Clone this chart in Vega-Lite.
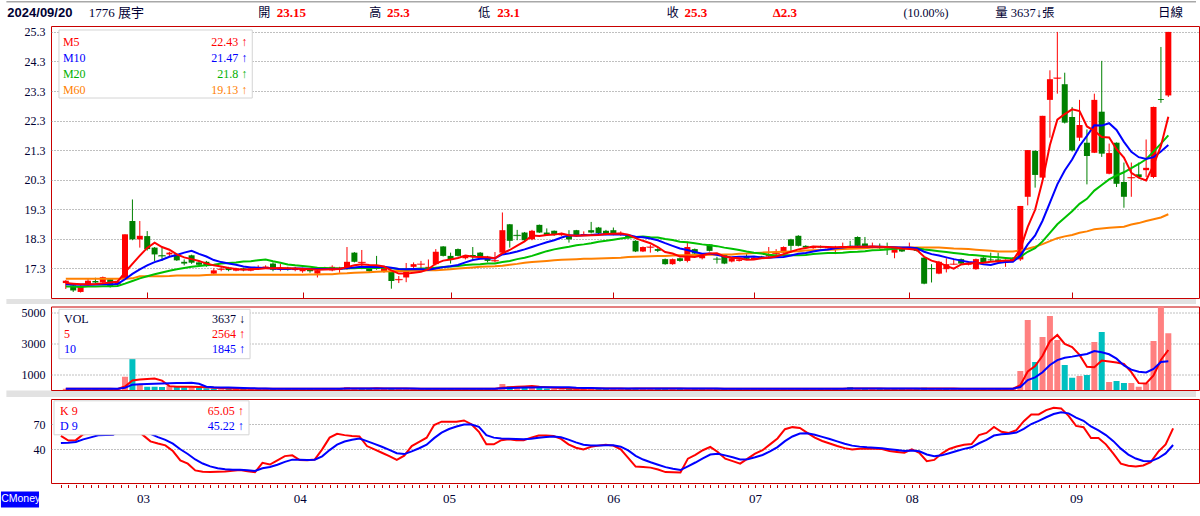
{
"$schema":"https://vega.github.io/schema/vega-lite/v6.json",
"autosize":{"type":"pad"},
"padding":{"left":0,"top":0,"right":0,"bottom":10},
"background":"#ffffff",
"spacing":8.5,
"bounds":"flush",
"config":{
 "view":{"stroke":"#c80000","strokeWidth":1},
 "axis":{"labelFont":"Liberation Serif","labelFontSize":12,"labelColor":"#000033","title":null,"domain":false,"ticks":false,"grid":true,"gridColor":"#808080","gridDash":[1,2],"gridWidth":1,"labelPadding":6,"labelOverlap":false},
 "text":{"font":"Liberation Serif","fontSize":12,"baseline":"middle"}
},
"datasets":{"d":[
{"i":0,"o":16.80,"h":16.90,"l":16.60,"c":16.88,"v":85,"dir":"up","m5":16.80,"m10":16.76,"m20":16.68,"m60":16.95,"a5":80,"a10":75,"k":56,"d":47.6},
{"i":1,"o":16.72,"h":16.75,"l":16.50,"c":16.55,"v":60,"dir":"dn","m5":16.78,"m10":16.75,"m20":16.68,"m60":16.95,"a5":78,"a10":75,"k":50.5,"d":48},
{"i":2,"o":16.50,"h":16.72,"l":16.48,"c":16.70,"v":70,"dir":"up","m5":16.76,"m10":16.74,"m20":16.67,"m60":16.95,"a5":75,"a10":75,"k":51,"d":48.8},
{"i":3,"o":16.76,"h":16.95,"l":16.72,"c":16.88,"v":90,"dir":"up","m5":16.76,"m10":16.74,"m20":16.68,"m60":16.95,"a5":78,"a10":76,"k":58,"d":51.9},
{"i":4,"o":16.87,"h":16.98,"l":16.80,"c":16.82,"v":80,"dir":"dn","m5":16.77,"m10":16.75,"m20":16.68,"m60":16.95,"a5":77,"a10":76,"k":59,"d":54.3},
{"i":5,"o":16.82,"h":17.02,"l":16.80,"c":17.00,"v":70,"dir":"up","m5":16.79,"m10":16.76,"m20":16.69,"m60":16.95,"a5":74,"a10":76,"k":62,"d":56.9},
{"i":6,"o":16.93,"h":16.95,"l":16.65,"c":16.68,"v":60,"dir":"dn","m5":16.82,"m10":16.76,"m20":16.69,"m60":16.95,"a5":74,"a10":75,"k":57.5,"d":57.1},
{"i":7,"o":16.76,"h":16.90,"l":16.70,"c":16.85,"v":60,"dir":"up","m5":16.85,"m10":16.77,"m20":16.70,"m60":16.95,"a5":68,"a10":75,"k":58,"d":57.4},
{"i":8,"o":16.93,"h":18.45,"l":16.90,"c":18.45,"v":855,"dir":"up","m5":17.16,"m10":16.93,"m20":16.78,"m60":16.95,"a5":225,"a10":150,"k":75,"d":63.3},
{"i":9,"o":18.90,"h":19.63,"l":18.25,"c":18.28,"v":2006,"dir":"dn","m5":17.45,"m10":17.11,"m20":16.87,"m60":16.96,"a5":610,"a10":344,"k":72,"d":66.2},
{"i":10,"o":18.28,"h":18.90,"l":18.00,"c":18.40,"v":365,"dir":"up","m5":17.73,"m10":17.26,"m20":16.96,"m60":17.03,"a5":669,"a10":372,"k":65,"d":65.8},
{"i":11,"o":18.39,"h":18.56,"l":17.90,"c":17.95,"v":213,"dir":"dn","m5":17.99,"m10":17.40,"m20":17.03,"m60":17.03,"a5":700,"a10":387,"k":57,"d":62.9},
{"i":12,"o":18.00,"h":18.02,"l":17.55,"c":17.77,"v":213,"dir":"dn","m5":18.17,"m10":17.51,"m20":17.10,"m60":17.03,"a5":730,"a10":401,"k":49.6,"d":58.4},
{"i":13,"o":17.74,"h":18.00,"l":17.55,"c":17.72,"v":200,"dir":"dn","m5":18.02,"m10":17.59,"m20":17.16,"m60":17.03,"a5":599,"a10":412,"k":47,"d":54.6},
{"i":14,"o":17.77,"h":17.86,"l":17.70,"c":17.83,"v":250,"dir":"up","m5":17.93,"m10":17.69,"m20":17.22,"m60":17.04,"a5":248,"a10":429,"k":44.8,"d":51.3},
{"i":15,"o":17.77,"h":17.80,"l":17.55,"c":17.57,"v":200,"dir":"dn","m5":17.77,"m10":17.75,"m20":17.27,"m60":17.06,"a5":215,"a10":442,"k":38,"d":46.9},
{"i":16,"o":17.52,"h":17.60,"l":17.40,"c":17.46,"v":180,"dir":"dn","m5":17.67,"m10":17.83,"m20":17.31,"m60":17.06,"a5":209,"a10":454,"k":27,"d":40.2},
{"i":17,"o":17.74,"h":17.76,"l":17.45,"c":17.49,"v":200,"dir":"up","m5":17.61,"m10":17.89,"m20":17.35,"m60":17.06,"a5":206,"a10":468,"k":23,"d":34.5},
{"i":18,"o":17.50,"h":17.55,"l":17.40,"c":17.42,"v":150,"dir":"dn","m5":17.55,"m10":17.79,"m20":17.38,"m60":17.06,"a5":196,"a10":398,"k":15,"d":28},
{"i":19,"o":17.52,"h":17.55,"l":17.35,"c":17.38,"v":120,"dir":"dn","m5":17.46,"m10":17.70,"m20":17.40,"m60":17.07,"a5":170,"a10":209,"k":13.5,"d":23.2},
{"i":20,"o":17.12,"h":17.30,"l":17.10,"c":17.23,"v":90,"dir":"dn","m5":17.40,"m10":17.58,"m20":17.42,"m60":17.08,"a5":146,"a10":181,"k":13,"d":19.8},
{"i":21,"o":17.25,"h":17.35,"l":17.20,"c":17.27,"v":70,"dir":"up","m5":17.36,"m10":17.51,"m20":17.46,"m60":17.08,"a5":126,"a10":167,"k":13.3,"d":17.6},
{"i":22,"o":17.32,"h":17.35,"l":17.20,"c":17.24,"v":80,"dir":"dn","m5":17.31,"m10":17.46,"m20":17.48,"m60":17.08,"a5":102,"a10":154,"k":13.6,"d":16.3},
{"i":23,"o":17.22,"h":17.32,"l":17.20,"c":17.28,"v":60,"dir":"up","m5":17.28,"m10":17.42,"m20":17.50,"m60":17.08,"a5":88,"a10":142,"k":14.5,"d":15.7},
{"i":24,"o":17.30,"h":17.32,"l":17.20,"c":17.25,"v":90,"dir":"dn","m5":17.25,"m10":17.36,"m20":17.53,"m60":17.08,"a5":80,"a10":125,"k":15.6,"d":15.7},
{"i":25,"o":17.22,"h":17.35,"l":17.20,"c":17.30,"v":80,"dir":"up","m5":17.27,"m10":17.33,"m20":17.54,"m60":17.08,"a5":80,"a10":113,"k":14,"d":15.1},
{"i":26,"o":17.28,"h":17.40,"l":17.25,"c":17.33,"v":70,"dir":"up","m5":17.28,"m10":17.32,"m20":17.57,"m60":17.08,"a5":80,"a10":103,"k":12.8,"d":14.3},
{"i":27,"o":17.30,"h":17.40,"l":17.28,"c":17.36,"v":100,"dir":"up","m5":17.30,"m10":17.31,"m20":17.60,"m60":17.08,"a5":80,"a10":91,"k":24,"d":17.5},
{"i":28,"o":17.46,"h":17.50,"l":17.20,"c":17.25,"v":80,"dir":"dn","m5":17.30,"m10":17.29,"m20":17.54,"m60":17.08,"a5":80,"a10":84,"k":22,"d":19},
{"i":29,"o":17.25,"h":17.45,"l":17.20,"c":17.30,"v":60,"dir":"up","m5":17.31,"m10":17.28,"m20":17.49,"m60":17.08,"a5":80,"a10":80,"k":27,"d":21.7},
{"i":30,"o":17.32,"h":17.35,"l":17.22,"c":17.26,"v":80,"dir":"dn","m5":17.30,"m10":17.28,"m20":17.43,"m60":17.08,"a5":80,"a10":80,"k":32,"d":25.1},
{"i":31,"o":17.24,"h":17.35,"l":17.20,"c":17.30,"v":90,"dir":"up","m5":17.29,"m10":17.29,"m20":17.40,"m60":17.08,"a5":80,"a10":80,"k":33,"d":27.8},
{"i":32,"o":17.20,"h":17.32,"l":17.15,"c":17.28,"v":70,"dir":"dn","m5":17.28,"m10":17.29,"m20":17.38,"m60":17.08,"a5":80,"a10":80,"k":27.4,"d":27.7},
{"i":33,"o":17.25,"h":17.28,"l":17.15,"c":17.20,"v":80,"dir":"dn","m5":17.27,"m10":17.28,"m20":17.35,"m60":17.09,"a5":80,"a10":80,"k":27,"d":27.5},
{"i":34,"o":17.12,"h":17.25,"l":16.99,"c":17.23,"v":70,"dir":"up","m5":17.25,"m10":17.28,"m20":17.32,"m60":17.09,"a5":80,"a10":80,"k":28,"d":27.7},
{"i":35,"o":17.28,"h":17.35,"l":17.25,"c":17.30,"v":90,"dir":"up","m5":17.26,"m10":17.28,"m20":17.31,"m60":17.10,"a5":80,"a10":80,"k":40,"d":31.8},
{"i":36,"o":17.23,"h":17.40,"l":17.20,"c":17.35,"v":80,"dir":"up","m5":17.27,"m10":17.28,"m20":17.30,"m60":17.10,"a5":80,"a10":80,"k":54,"d":39.2},
{"i":37,"o":17.30,"h":17.35,"l":17.15,"c":17.31,"v":60,"dir":"dn","m5":17.28,"m10":17.28,"m20":17.29,"m60":17.12,"a5":80,"a10":80,"k":58.5,"d":45.6},
{"i":38,"o":17.27,"h":18.02,"l":17.25,"c":17.52,"v":190,"dir":"up","m5":17.34,"m10":17.31,"m20":17.30,"m60":17.13,"a5":102,"a10":91,"k":57,"d":49.4},
{"i":39,"o":17.83,"h":17.85,"l":17.50,"c":17.52,"v":90,"dir":"up","m5":17.40,"m10":17.33,"m20":17.30,"m60":17.15,"a5":102,"a10":91,"k":56,"d":51.6},
{"i":40,"o":17.48,"h":17.92,"l":17.27,"c":17.50,"v":80,"dir":"dn","m5":17.44,"m10":17.35,"m20":17.32,"m60":17.16,"a5":102,"a10":91,"k":55.5,"d":52.9},
{"i":41,"o":17.30,"h":17.32,"l":17.15,"c":17.20,"v":70,"dir":"dn","m5":17.41,"m10":17.34,"m20":17.31,"m60":17.17,"a5":102,"a10":91,"k":44,"d":49.9},
{"i":42,"o":17.32,"h":17.72,"l":17.25,"c":17.28,"v":150,"dir":"up","m5":17.40,"m10":17.34,"m20":17.32,"m60":17.18,"a5":116,"a10":98,"k":40,"d":46.6},
{"i":43,"o":17.19,"h":17.35,"l":17.15,"c":17.32,"v":80,"dir":"up","m5":17.36,"m10":17.35,"m20":17.32,"m60":17.19,"a5":94,"a10":98,"k":36,"d":43.1},
{"i":44,"o":17.21,"h":17.22,"l":16.61,"c":16.87,"v":100,"dir":"dn","m5":17.23,"m10":17.32,"m20":17.30,"m60":17.20,"a5":94,"a10":98,"k":32,"d":39.4},
{"i":45,"o":16.90,"h":17.04,"l":16.80,"c":16.92,"v":80,"dir":"up","m5":17.12,"m10":17.28,"m20":17.28,"m60":17.21,"a5":94,"a10":98,"k":27.4,"d":35.4},
{"i":46,"o":16.99,"h":17.48,"l":16.83,"c":17.21,"v":90,"dir":"up","m5":17.12,"m10":17.27,"m20":17.27,"m60":17.21,"a5":94,"a10":98,"k":32.5,"d":34.4},
{"i":47,"o":17.35,"h":17.50,"l":17.30,"c":17.44,"v":70,"dir":"up","m5":17.15,"m10":17.28,"m20":17.28,"m60":17.22,"a5":80,"a10":98,"k":44,"d":37.6},
{"i":48,"o":17.43,"h":17.55,"l":17.30,"c":17.44,"v":80,"dir":"up","m5":17.18,"m10":17.27,"m20":17.29,"m60":17.22,"a5":80,"a10":87,"k":49,"d":41.4},
{"i":49,"o":17.28,"h":17.60,"l":17.25,"c":17.35,"v":60,"dir":"dn","m5":17.27,"m10":17.25,"m20":17.29,"m60":17.23,"a5":80,"a10":87,"k":54,"d":45.6},
{"i":50,"o":17.44,"h":17.95,"l":17.40,"c":17.86,"v":110,"dir":"up","m5":17.46,"m10":17.29,"m20":17.32,"m60":17.23,"a5":80,"a10":87,"k":69,"d":53.4},
{"i":51,"o":18.04,"h":18.05,"l":17.70,"c":17.72,"v":90,"dir":"dn","m5":17.56,"m10":17.34,"m20":17.34,"m60":17.25,"a5":80,"a10":87,"k":73,"d":59.9},
{"i":52,"o":17.72,"h":17.83,"l":17.46,"c":17.61,"v":70,"dir":"dn","m5":17.60,"m10":17.37,"m20":17.36,"m60":17.27,"a5":80,"a10":80,"k":73,"d":64.3},
{"i":53,"o":17.95,"h":17.97,"l":17.70,"c":17.72,"v":80,"dir":"up","m5":17.65,"m10":17.41,"m20":17.38,"m60":17.29,"a5":80,"a10":80,"k":73,"d":67.2},
{"i":54,"o":17.64,"h":17.75,"l":17.60,"c":17.72,"v":60,"dir":"up","m5":17.73,"m10":17.50,"m20":17.41,"m60":17.31,"a5":80,"a10":80,"k":74.5,"d":69.6},
{"i":55,"o":17.75,"h":18.02,"l":17.60,"c":17.69,"v":80,"dir":"dn","m5":17.69,"m10":17.58,"m20":17.43,"m60":17.33,"a5":80,"a10":80,"k":70,"d":69.7},
{"i":56,"o":17.83,"h":17.85,"l":17.62,"c":17.66,"v":70,"dir":"dn","m5":17.68,"m10":17.62,"m20":17.44,"m60":17.35,"a5":80,"a10":80,"k":61,"d":66.8},
{"i":57,"o":17.69,"h":17.72,"l":17.50,"c":17.55,"v":80,"dir":"dn","m5":17.67,"m10":17.63,"m20":17.46,"m60":17.36,"a5":80,"a10":80,"k":46,"d":57},
{"i":58,"o":17.54,"h":17.85,"l":17.50,"c":17.56,"v":80,"dir":"up","m5":17.64,"m10":17.64,"m20":17.46,"m60":17.37,"a5":80,"a10":80,"k":46,"d":54},
{"i":59,"o":17.83,"h":19.19,"l":17.80,"c":18.59,"v":385,"dir":"up","m5":17.81,"m10":17.77,"m20":17.51,"m60":17.39,"a5":141,"a10":111,"k":51,"d":53},
{"i":60,"o":18.79,"h":18.80,"l":18.00,"c":18.23,"v":240,"dir":"dn","m5":17.92,"m10":17.81,"m20":17.55,"m60":17.42,"a5":173,"a10":127,"k":52,"d":52.7},
{"i":61,"o":18.43,"h":18.60,"l":18.25,"c":18.41,"v":230,"dir":"up","m5":18.07,"m10":17.87,"m20":17.61,"m60":17.45,"a5":203,"a10":142,"k":51,"d":52.5},
{"i":62,"o":18.51,"h":18.53,"l":18.20,"c":18.25,"v":220,"dir":"dn","m5":18.21,"m10":17.94,"m20":17.66,"m60":17.49,"a5":231,"a10":156,"k":51,"d":52},
{"i":63,"o":18.28,"h":18.60,"l":18.25,"c":18.57,"v":200,"dir":"up","m5":18.41,"m10":18.02,"m20":17.72,"m60":17.51,"a5":255,"a10":168,"k":54,"d":52.7},
{"i":64,"o":18.77,"h":18.78,"l":18.50,"c":18.51,"v":150,"dir":"dn","m5":18.39,"m10":18.10,"m20":17.80,"m60":17.53,"a5":208,"a10":175,"k":56.6,"d":54},
{"i":65,"o":18.51,"h":18.65,"l":18.40,"c":18.43,"v":100,"dir":"dn","m5":18.43,"m10":18.18,"m20":17.88,"m60":17.55,"a5":180,"a10":177,"k":56.6,"d":54.9},
{"i":66,"o":18.57,"h":18.58,"l":18.40,"c":18.43,"v":80,"dir":"up","m5":18.44,"m10":18.25,"m20":17.94,"m60":17.57,"a5":150,"a10":177,"k":56,"d":55.3},
{"i":67,"o":18.42,"h":18.50,"l":18.40,"c":18.46,"v":70,"dir":"up","m5":18.48,"m10":18.34,"m20":17.99,"m60":17.59,"a5":122,"a10":177,"k":52.5,"d":54.4},
{"i":68,"o":18.40,"h":18.59,"l":18.17,"c":18.28,"v":90,"dir":"dn","m5":18.42,"m10":18.42,"m20":18.03,"m60":17.60,"a5":98,"a10":177,"k":46,"d":51.6},
{"i":69,"o":18.59,"h":18.60,"l":18.38,"c":18.40,"v":80,"dir":"up","m5":18.40,"m10":18.40,"m20":18.08,"m60":17.61,"a5":84,"a10":146,"k":42,"d":48.4},
{"i":70,"o":18.42,"h":18.55,"l":18.40,"c":18.46,"v":70,"dir":"up","m5":18.41,"m10":18.42,"m20":18.11,"m60":17.62,"a5":80,"a10":130,"k":40,"d":45.6},
{"i":71,"o":18.59,"h":18.87,"l":18.48,"c":18.51,"v":190,"dir":"up","m5":18.42,"m10":18.43,"m20":18.15,"m60":17.62,"a5":102,"a10":126,"k":43,"d":44.7},
{"i":72,"o":18.68,"h":18.70,"l":18.45,"c":18.49,"v":90,"dir":"dn","m5":18.43,"m10":18.45,"m20":18.20,"m60":17.63,"a5":102,"a10":112,"k":44.5,"d":44.6},
{"i":73,"o":18.57,"h":18.60,"l":18.42,"c":18.45,"v":80,"dir":"dn","m5":18.46,"m10":18.44,"m20":18.23,"m60":17.64,"a5":102,"a10":100,"k":45.5,"d":44.9},
{"i":74,"o":18.59,"h":18.68,"l":18.42,"c":18.45,"v":70,"dir":"up","m5":18.47,"m10":18.44,"m20":18.27,"m60":17.65,"a5":102,"a10":93,"k":44.5,"d":44.8},
{"i":75,"o":18.43,"h":18.55,"l":18.40,"c":18.50,"v":80,"dir":"up","m5":18.48,"m10":18.44,"m20":18.31,"m60":17.66,"a5":102,"a10":91,"k":40,"d":43.2},
{"i":76,"o":18.40,"h":18.45,"l":18.30,"c":18.32,"v":90,"dir":"dn","m5":18.44,"m10":18.43,"m20":18.34,"m60":17.68,"a5":80,"a10":91,"k":30,"d":38.8},
{"i":77,"o":18.23,"h":18.25,"l":17.85,"c":17.87,"v":130,"dir":"dn","m5":18.32,"m10":18.37,"m20":18.36,"m60":17.69,"a5":90,"a10":96,"k":19.5,"d":32.4},
{"i":78,"o":17.87,"h":18.04,"l":17.85,"c":18.02,"v":80,"dir":"up","m5":18.23,"m10":18.35,"m20":18.38,"m60":17.70,"a5":90,"a10":96,"k":19,"d":27.9},
{"i":79,"o":18.00,"h":18.10,"l":17.83,"c":18.02,"v":130,"dir":"up","m5":18.15,"m10":18.31,"m20":18.35,"m60":17.71,"a5":100,"a10":101,"k":18.3,"d":24.7},
{"i":80,"o":17.95,"h":17.98,"l":17.85,"c":17.89,"v":70,"dir":"dn","m5":18.02,"m10":18.25,"m20":18.34,"m60":17.72,"a5":100,"a10":101,"k":16,"d":21.8},
{"i":81,"o":17.61,"h":17.63,"l":17.42,"c":17.44,"v":90,"dir":"dn","m5":17.85,"m10":18.15,"m20":18.29,"m60":17.72,"a5":100,"a10":90,"k":13,"d":18.9},
{"i":82,"o":17.44,"h":17.63,"l":17.42,"c":17.61,"v":80,"dir":"up","m5":17.80,"m10":18.06,"m20":18.26,"m60":17.73,"a5":90,"a10":90,"k":12.8,"d":16.9},
{"i":83,"o":17.64,"h":17.66,"l":17.52,"c":17.55,"v":70,"dir":"dn","m5":17.70,"m10":17.97,"m20":18.20,"m60":17.74,"a5":90,"a10":90,"k":12.4,"d":15.4},
{"i":84,"o":17.55,"h":18.20,"l":17.50,"c":18.02,"v":120,"dir":"up","m5":17.70,"m10":17.92,"m20":18.18,"m60":17.74,"a5":88,"a10":94,"k":29,"d":19.9},
{"i":85,"o":17.95,"h":17.97,"l":17.78,"c":17.80,"v":80,"dir":"dn","m5":17.68,"m10":17.85,"m20":18.15,"m60":17.75,"a5":88,"a10":94,"k":33.5,"d":24.4},
{"i":86,"o":17.64,"h":17.75,"l":17.60,"c":17.72,"v":70,"dir":"dn","m5":17.74,"m10":17.79,"m20":18.11,"m60":17.75,"a5":88,"a10":94,"k":39,"d":29.3},
{"i":87,"o":18.11,"h":18.12,"l":17.87,"c":17.89,"v":90,"dir":"up","m5":17.80,"m10":17.80,"m20":18.08,"m60":17.76,"a5":88,"a10":89,"k":43,"d":33.9},
{"i":88,"o":17.62,"h":17.69,"l":17.46,"c":17.61,"v":80,"dir":"dn","m5":17.81,"m10":17.76,"m20":18.05,"m60":17.76,"a5":88,"a10":89,"k":37,"d":34.9},
{"i":89,"o":17.75,"h":17.76,"l":17.44,"c":17.46,"v":70,"dir":"dn","m5":17.70,"m10":17.70,"m20":18.00,"m60":17.77,"a5":80,"a10":84,"k":29,"d":32.9},
{"i":90,"o":17.53,"h":17.66,"l":17.50,"c":17.64,"v":80,"dir":"up","m5":17.66,"m10":17.67,"m20":17.96,"m60":17.77,"a5":80,"a10":84,"k":26,"d":30.6},
{"i":91,"o":17.55,"h":17.62,"l":17.53,"c":17.60,"v":60,"dir":"dn","m5":17.64,"m10":17.69,"m20":17.92,"m60":17.79,"a5":80,"a10":84,"k":23,"d":28.1},
{"i":92,"o":17.72,"h":17.78,"l":17.60,"c":17.62,"v":70,"dir":"up","m5":17.59,"m10":17.69,"m20":17.87,"m60":17.80,"a5":80,"a10":84,"k":29,"d":28.4},
{"i":93,"o":17.60,"h":17.70,"l":17.58,"c":17.66,"v":80,"dir":"up","m5":17.60,"m10":17.70,"m20":17.83,"m60":17.82,"a5":80,"a10":84,"k":35,"d":30.6},
{"i":94,"o":17.70,"h":17.72,"l":17.63,"c":17.66,"v":90,"dir":"up","m5":17.64,"m10":17.67,"m20":17.80,"m60":17.83,"a5":80,"a10":80,"k":39,"d":33.4},
{"i":95,"o":17.70,"h":18.02,"l":17.68,"c":17.75,"v":80,"dir":"up","m5":17.66,"m10":17.66,"m20":17.76,"m60":17.84,"a5":80,"a10":80,"k":46,"d":37.6},
{"i":96,"o":17.78,"h":17.95,"l":17.75,"c":17.80,"v":70,"dir":"up","m5":17.70,"m10":17.67,"m20":17.73,"m60":17.85,"a5":80,"a10":80,"k":53,"d":42.7},
{"i":97,"o":17.83,"h":18.04,"l":17.80,"c":18.02,"v":100,"dir":"up","m5":17.78,"m10":17.68,"m20":17.74,"m60":17.86,"a5":80,"a10":80,"k":64,"d":49.8},
{"i":98,"o":18.28,"h":18.30,"l":17.89,"c":18.06,"v":90,"dir":"up","m5":17.86,"m10":17.73,"m20":17.74,"m60":17.87,"a5":80,"a10":80,"k":66.5,"d":55.4},
{"i":99,"o":18.40,"h":18.42,"l":18.04,"c":18.06,"v":80,"dir":"up","m5":17.94,"m10":17.79,"m20":17.74,"m60":17.88,"a5":80,"a10":80,"k":65.5,"d":58.8},
{"i":100,"o":18.06,"h":18.08,"l":17.98,"c":18.00,"v":70,"dir":"dn","m5":17.99,"m10":17.82,"m20":17.75,"m60":17.90,"a5":80,"a10":80,"k":59.7,"d":59.1},
{"i":101,"o":17.98,"h":18.06,"l":17.96,"c":18.04,"v":60,"dir":"up","m5":18.04,"m10":17.87,"m20":17.78,"m60":17.91,"a5":80,"a10":80,"k":54,"d":57.4},
{"i":102,"o":18.05,"h":18.07,"l":17.98,"c":18.00,"v":80,"dir":"dn","m5":18.03,"m10":17.91,"m20":17.80,"m60":17.92,"a5":80,"a10":80,"k":50,"d":54.9},
{"i":103,"o":17.98,"h":18.05,"l":17.96,"c":18.02,"v":70,"dir":"up","m5":18.02,"m10":17.94,"m20":17.82,"m60":17.93,"a5":80,"a10":80,"k":47,"d":52.3},
{"i":104,"o":17.96,"h":18.06,"l":17.78,"c":18.00,"v":80,"dir":"dn","m5":18.01,"m10":17.98,"m20":17.82,"m60":17.94,"a5":80,"a10":80,"k":44,"d":49.5},
{"i":105,"o":18.00,"h":18.17,"l":17.98,"c":18.04,"v":90,"dir":"up","m5":18.02,"m10":18.00,"m20":17.83,"m60":17.95,"a5":80,"a10":80,"k":41.5,"d":46.8},
{"i":106,"o":18.06,"h":18.23,"l":18.00,"c":18.03,"v":190,"dir":"dn","m5":18.02,"m10":18.03,"m20":17.85,"m60":17.96,"a5":102,"a10":91,"k":40,"d":44.5},
{"i":107,"o":18.36,"h":18.38,"l":18.04,"c":18.06,"v":80,"dir":"up","m5":18.03,"m10":18.03,"m20":17.86,"m60":17.97,"a5":102,"a10":91,"k":40.8,"d":43.3},
{"i":108,"o":18.14,"h":18.36,"l":18.00,"c":18.02,"v":90,"dir":"dn","m5":18.03,"m10":18.03,"m20":17.88,"m60":17.98,"a5":102,"a10":91,"k":40.8,"d":42.5},
{"i":109,"o":18.00,"h":18.17,"l":17.98,"c":18.06,"v":70,"dir":"up","m5":18.04,"m10":18.03,"m20":17.91,"m60":18.00,"a5":102,"a10":91,"k":40.8,"d":41.9},
{"i":110,"o":18.04,"h":18.14,"l":17.95,"c":17.98,"v":60,"dir":"dn","m5":18.03,"m10":18.03,"m20":17.92,"m60":18.00,"a5":102,"a10":91,"k":40.5,"d":41.4},
{"i":111,"o":18.00,"h":18.17,"l":17.75,"c":17.97,"v":80,"dir":"dn","m5":18.02,"m10":18.02,"m20":17.94,"m60":18.00,"a5":80,"a10":91,"k":38,"d":40.3},
{"i":112,"o":17.83,"h":17.97,"l":17.64,"c":17.95,"v":90,"dir":"dn","m5":18.00,"m10":18.01,"m20":17.96,"m60":18.00,"a5":80,"a10":91,"k":37,"d":39.2},
{"i":113,"o":17.95,"h":17.97,"l":17.85,"c":17.87,"v":70,"dir":"dn","m5":17.97,"m10":18.00,"m20":17.97,"m60":18.00,"a5":80,"a10":91,"k":36,"d":38.1},
{"i":114,"o":17.96,"h":18.17,"l":17.94,"c":17.98,"v":80,"dir":"up","m5":17.95,"m10":18.00,"m20":17.99,"m60":18.00,"a5":80,"a10":91,"k":40,"d":38.7},
{"i":115,"o":17.95,"h":17.97,"l":17.87,"c":17.89,"v":60,"dir":"dn","m5":17.93,"m10":17.98,"m20":17.99,"m60":18.00,"a5":80,"a10":91,"k":36,"d":37.8},
{"i":116,"o":17.66,"h":17.68,"l":16.76,"c":16.78,"v":140,"dir":"dn","m5":17.69,"m10":17.86,"m20":17.94,"m60":18.00,"a5":92,"a10":86,"k":26,"d":33.9},
{"i":117,"o":17.30,"h":17.44,"l":16.82,"c":17.29,"v":90,"dir":"up","m5":17.56,"m10":17.78,"m20":17.91,"m60":18.00,"a5":92,"a10":86,"k":27.5,"d":31.8},
{"i":118,"o":17.12,"h":17.55,"l":17.10,"c":17.52,"v":80,"dir":"up","m5":17.49,"m10":17.73,"m20":17.88,"m60":18.00,"a5":92,"a10":86,"k":35,"d":32.9},
{"i":119,"o":17.27,"h":17.64,"l":17.16,"c":17.44,"v":70,"dir":"dn","m5":17.38,"m10":17.67,"m20":17.85,"m60":17.99,"a5":92,"a10":86,"k":40.5,"d":35.4},
{"i":120,"o":17.43,"h":17.62,"l":17.42,"c":17.44,"v":80,"dir":"up","m5":17.29,"m10":17.61,"m20":17.82,"m60":17.97,"a5":92,"a10":86,"k":43.5,"d":38.1},
{"i":121,"o":17.61,"h":17.63,"l":17.44,"c":17.46,"v":60,"dir":"up","m5":17.43,"m10":17.56,"m20":17.79,"m60":17.96,"a5":80,"a10":86,"k":45.5,"d":40.6},
{"i":122,"o":17.42,"h":17.50,"l":17.40,"c":17.46,"v":70,"dir":"up","m5":17.46,"m10":17.51,"m20":17.76,"m60":17.95,"a5":80,"a10":86,"k":46.4,"d":42.5},
{"i":123,"o":17.27,"h":17.63,"l":17.25,"c":17.61,"v":90,"dir":"up","m5":17.48,"m10":17.49,"m20":17.74,"m60":17.93,"a5":80,"a10":86,"k":57,"d":47.3},
{"i":124,"o":17.66,"h":17.68,"l":17.47,"c":17.49,"v":80,"dir":"dn","m5":17.49,"m10":17.44,"m20":17.72,"m60":17.91,"a5":80,"a10":86,"k":59.6,"d":51.4},
{"i":125,"o":17.60,"h":17.83,"l":17.55,"c":17.57,"v":70,"dir":"up","m5":17.52,"m10":17.41,"m20":17.69,"m60":17.89,"a5":80,"a10":86,"k":66.8,"d":56.5},
{"i":126,"o":17.60,"h":17.83,"l":17.50,"c":17.55,"v":80,"dir":"dn","m5":17.54,"m10":17.48,"m20":17.67,"m60":17.87,"a5":80,"a10":80,"k":61,"d":58},
{"i":127,"o":17.49,"h":17.60,"l":17.35,"c":17.57,"v":90,"dir":"up","m5":17.56,"m10":17.51,"m20":17.65,"m60":17.87,"a5":80,"a10":80,"k":59.6,"d":58.5},
{"i":128,"o":17.58,"h":17.68,"l":17.55,"c":17.65,"v":80,"dir":"up","m5":17.57,"m10":17.52,"m20":17.63,"m60":17.87,"a5":80,"a10":80,"k":63,"d":60},
{"i":129,"o":17.60,"h":19.41,"l":17.55,"c":19.41,"v":1218,"dir":"up","m5":17.95,"m10":17.72,"m20":17.69,"m60":17.90,"a5":308,"a10":194,"k":73.6,"d":64.5},
{"i":130,"o":19.72,"h":21.30,"l":19.43,"c":21.30,"v":4487,"dir":"up","m5":18.70,"m10":18.11,"m20":17.86,"m60":17.96,"a5":1189,"a10":635,"k":81.6,"d":70.2},
{"i":131,"o":21.27,"h":21.30,"l":20.03,"c":20.46,"v":1795,"dir":"dn","m5":19.28,"m10":18.41,"m20":17.98,"m60":18.03,"a5":1532,"a10":806,"k":81.6,"d":74},
{"i":132,"o":20.37,"h":22.46,"l":20.30,"c":22.46,"v":3397,"dir":"up","m5":20.26,"m10":18.91,"m20":18.21,"m60":18.12,"a5":2195,"a10":1138,"k":86.8,"d":78.3},
{"i":133,"o":23.00,"h":24.00,"l":21.72,"c":23.70,"v":4743,"dir":"up","m5":21.47,"m10":19.52,"m20":18.50,"m60":18.22,"a5":3128,"a10":1604,"k":89.6,"d":82.1},
{"i":134,"o":23.72,"h":25.30,"l":23.21,"c":23.74,"v":3205,"dir":"up","m5":22.33,"m10":20.14,"m20":18.79,"m60":18.32,"a5":3525,"a10":1917,"k":88.8,"d":84.3},
{"i":135,"o":23.53,"h":23.92,"l":22.20,"c":22.23,"v":1603,"dir":"dn","m5":22.52,"m10":20.61,"m20":19.01,"m60":18.38,"a5":2949,"a10":2069,"k":80,"d":82.9},
{"i":136,"o":22.42,"h":22.76,"l":21.25,"c":21.29,"v":790,"dir":"dn","m5":22.68,"m10":20.98,"m20":19.23,"m60":18.43,"a5":2748,"a10":2140,"k":68,"d":77.9},
{"i":137,"o":21.72,"h":23.00,"l":21.61,"c":22.15,"v":897,"dir":"up","m5":22.62,"m10":21.44,"m20":19.48,"m60":18.50,"a5":2248,"a10":2222,"k":66.4,"d":74.1},
{"i":138,"o":21.55,"h":22.00,"l":20.14,"c":21.10,"v":961,"dir":"dn","m5":22.10,"m10":21.78,"m20":19.65,"m60":18.55,"a5":1491,"a10":2310,"k":53.6,"d":67.3},
{"i":139,"o":21.21,"h":23.21,"l":21.20,"c":23.00,"v":3077,"dir":"up","m5":21.95,"m10":22.14,"m20":19.93,"m60":18.62,"a5":1466,"a10":2496,"k":53.6,"d":62.7},
{"i":140,"o":22.60,"h":24.32,"l":21.07,"c":21.18,"v":3718,"dir":"dn","m5":21.74,"m10":22.13,"m20":20.12,"m60":18.65,"a5":1889,"a10":2419,"k":46,"d":57.1},
{"i":141,"o":20.50,"h":21.52,"l":20.48,"c":21.20,"v":513,"dir":"up","m5":21.73,"m10":22.21,"m20":20.31,"m60":18.67,"a5":1833,"a10":2290,"k":35,"d":49.8},
{"i":142,"o":21.55,"h":21.56,"l":20.05,"c":20.16,"v":577,"dir":"dn","m5":21.33,"m10":21.98,"m20":20.44,"m60":18.69,"a5":1769,"a10":2008,"k":23,"d":40.9},
{"i":143,"o":20.22,"h":20.88,"l":19.35,"c":19.72,"v":449,"dir":"dn","m5":21.05,"m10":21.58,"m20":20.55,"m60":18.71,"a5":1667,"a10":1579,"k":20.5,"d":33.8},
{"i":144,"o":20.35,"h":20.88,"l":19.72,"c":20.37,"v":449,"dir":"up","m5":20.53,"m10":21.24,"m20":20.69,"m60":18.78,"a5":1141,"a10":1303,"k":19.6,"d":29.1},
{"i":145,"o":20.48,"h":20.88,"l":20.35,"c":20.39,"v":214,"dir":"up","m5":20.37,"m10":21.06,"m20":20.83,"m60":18.83,"a5":440,"a10":1165,"k":20.8,"d":26.3},
{"i":146,"o":20.62,"h":21.66,"l":20.39,"c":20.70,"v":428,"dir":"up","m5":20.27,"m10":21.00,"m20":20.99,"m60":18.90,"a5":423,"a10":1128,"k":24.8,"d":25.8},
{"i":147,"o":20.39,"h":22.77,"l":20.35,"c":22.76,"v":3141,"dir":"up","m5":20.79,"m10":21.06,"m20":21.25,"m60":18.96,"a5":936,"a10":1353,"k":37,"d":29.5},
{"i":148,"o":23.03,"h":24.79,"l":22.90,"c":23.00,"v":5400,"dir":"up","m5":21.44,"m10":21.25,"m20":21.52,"m60":19.02,"a5":1926,"a10":1797,"k":46,"d":35.2},
{"i":149,"o":23.15,"h":25.30,"l":23.10,"c":25.30,"v":3637,"dir":"up","m5":22.43,"m10":21.47,"m20":21.80,"m60":19.13,"a5":2564,"a10":1845,"k":65.05,"d":45.22}
]},
"vconcat":[
{
 "width":1148,"height":272,
 "data":{"name":"d"},
 "encoding":{"x":{"field":"i","type":"quantitative","scale":{"domain":[-1.326,152.47],"nice":false,"zero":false},"axis":{"values":[11,32,52,74,93,114,136],"labels":false,"grid":false,"ticks":true,"tickColor":"#c80000","tickSize":-7,"offset":1,"domain":false}}},
 "layer":[
  {"transform":[{"filter":"datum.i == 0"}],"mark":{"type":"rect","fill":"#e2e2e2"},"encoding":{"x":{"datum":-8.03},"x2":{"datum":152.74},"y":{"datum":16.263},"y2":{"datum":16.093}}},
  {"transform":[{"filter":"datum.i == 0"}],"mark":{"type":"rect","fill":"#e2e2e2"},"encoding":{"x":{"datum":-8.03},"x2":{"datum":152.74},"y":{"datum":13.167},"y2":{"datum":12.947}}},
  {"transform":[{"filter":"datum.i == 0"}],"mark":{"type":"rect","fill":"#a8a8a8"},"encoding":{"x":{"datum":-8.03},"x2":{"datum":152.74},"y":{"datum":26.346},"y2":{"datum":26.295}}},
  {"mark":{"type":"rule","strokeWidth":1},"encoding":{"y":{"field":"l","type":"quantitative","scale":{"domain":[16.295,25.5],"nice":false,"zero":false},"axis":{"values":[17.3,18.3,19.3,20.3,21.3,22.3,23.3,24.3,25.3],"tickCount":30,"format":".1f"}},"y2":{"field":"h"},"color":{"condition":{"test":"datum.c >= datum.o","value":"#ff0000"},"value":"#008000"}}},
  {"mark":{"type":"bar","width":6},"encoding":{"y":{"field":"o","type":"quantitative","axis":{"values":[17.3,18.3,19.3,20.3,21.3,22.3,23.3,24.3,25.3],"tickCount":30,"format":".1f"}},"y2":{"field":"c"},"color":{"condition":{"test":"datum.c >= datum.o","value":"#ff0000"},"value":"#008000"}}},
  {"transform":[{"filter":"abs(datum.c - datum.o) <= 0.03"}],"mark":{"type":"tick","orient":"horizontal","size":8,"thickness":1.2},"encoding":{"y":{"field":"c","type":"quantitative","axis":{"values":[17.3,18.3,19.3,20.3,21.3,22.3,23.3,24.3,25.3],"tickCount":30,"format":".1f"}},"color":{"condition":{"test":"datum.c >= datum.o","value":"#ff0000"},"value":"#008000"}}},
  {"mark":{"type":"line","color":"#ff8000","strokeWidth":2},"encoding":{"y":{"field":"m60","type":"quantitative","axis":{"values":[17.3,18.3,19.3,20.3,21.3,22.3,23.3,24.3,25.3],"tickCount":30,"format":".1f"}}}},
  {"mark":{"type":"line","color":"#00c000","strokeWidth":2},"encoding":{"y":{"field":"m20","type":"quantitative","axis":{"values":[17.3,18.3,19.3,20.3,21.3,22.3,23.3,24.3,25.3],"tickCount":30,"format":".1f"}}}},
  {"mark":{"type":"line","color":"#0000ff","strokeWidth":2},"encoding":{"y":{"field":"m10","type":"quantitative","axis":{"values":[17.3,18.3,19.3,20.3,21.3,22.3,23.3,24.3,25.3],"tickCount":30,"format":".1f"}}}},
  {"mark":{"type":"line","color":"#ff0000","strokeWidth":2},"encoding":{"y":{"field":"m5","type":"quantitative","axis":{"values":[17.3,18.3,19.3,20.3,21.3,22.3,23.3,24.3,25.3],"tickCount":30,"format":".1f"}}}},
  {"transform":[{"filter":"datum.i == 0"}],"mark":{"type":"rect","fill":"#ffffff","stroke":"#d4d4d4","strokeWidth":1},"encoding":{"x":{"datum":-0.924},"x2":{"datum":25.2},"y":{"datum":25.365},"y2":{"datum":23.063}}},
  {"transform":[{"filter":"datum.i == 0"}],"mark":{"type":"text","align":"left","color":"#ff0000","text":"M5"},"encoding":{"x":{"datum":-0.388},"y":{"datum":24.959}}},
  {"transform":[{"filter":"datum.i == 0"}],"mark":{"type":"text","align":"right","color":"#ff0000","text":"22.43 ↑"},"encoding":{"x":{"datum":24.53},"y":{"datum":24.959}}},
  {"transform":[{"filter":"datum.i == 0"}],"mark":{"type":"text","align":"left","color":"#0000ff","text":"M10"},"encoding":{"x":{"datum":-0.388},"y":{"datum":24.427}}},
  {"transform":[{"filter":"datum.i == 0"}],"mark":{"type":"text","align":"right","color":"#0000ff","text":"21.47 ↑"},"encoding":{"x":{"datum":24.53},"y":{"datum":24.427}}},
  {"transform":[{"filter":"datum.i == 0"}],"mark":{"type":"text","align":"left","color":"#00b000","text":"M20"},"encoding":{"x":{"datum":-0.388},"y":{"datum":23.886}}},
  {"transform":[{"filter":"datum.i == 0"}],"mark":{"type":"text","align":"right","color":"#00b000","text":"21.8 ↑"},"encoding":{"x":{"datum":24.53},"y":{"datum":23.886}}},
  {"transform":[{"filter":"datum.i == 0"}],"mark":{"type":"text","align":"left","color":"#ff8000","text":"M60"},"encoding":{"x":{"datum":-0.388},"y":{"datum":23.334}}},
  {"transform":[{"filter":"datum.i == 0"}],"mark":{"type":"text","align":"right","color":"#ff8000","text":"19.13 ↑"},"encoding":{"x":{"datum":24.53},"y":{"datum":23.334}}},
  {"transform":[{"filter":"datum.i == 0"}],"mark":{"type":"text","align":"left","color":"#000033","font":"Liberation Sans","fontWeight":"bold","fontSize":13,"text":"2024/09/20"},"encoding":{"x":{"datum":-7.9},"y":{"datum":25.94}}},
  {"transform":[{"filter":"datum.i == 0"}],"mark":{"type":"text","align":"left","color":"#000033","font":"Liberation Serif, Noto Sans CJK TC","fontSize":13,"text":"1776 展宇"},"encoding":{"x":{"datum":3.1},"y":{"datum":25.94}}},
  {"transform":[{"filter":"datum.i == 0"}],"mark":{"type":"text","align":"left","color":"#000033","font":"Noto Sans CJK TC","text":"開"},"encoding":{"x":{"datum":26.0},"y":{"datum":25.94}}},
  {"transform":[{"filter":"datum.i == 0"}],"mark":{"type":"text","align":"left","color":"#ff0000","fontWeight":"bold","fontSize":13,"text":"23.15"},"encoding":{"x":{"datum":28.5},"y":{"datum":25.94}}},
  {"transform":[{"filter":"datum.i == 0"}],"mark":{"type":"text","align":"left","color":"#000033","font":"Noto Sans CJK TC","text":"高"},"encoding":{"x":{"datum":41.0},"y":{"datum":25.94}}},
  {"transform":[{"filter":"datum.i == 0"}],"mark":{"type":"text","align":"left","color":"#ff0000","fontWeight":"bold","fontSize":13,"text":"25.3"},"encoding":{"x":{"datum":43.4},"y":{"datum":25.94}}},
  {"transform":[{"filter":"datum.i == 0"}],"mark":{"type":"text","align":"left","color":"#000033","font":"Noto Sans CJK TC","text":"低"},"encoding":{"x":{"datum":55.75},"y":{"datum":25.94}}},
  {"transform":[{"filter":"datum.i == 0"}],"mark":{"type":"text","align":"left","color":"#ff0000","fontWeight":"bold","fontSize":13,"text":"23.1"},"encoding":{"x":{"datum":58.3},"y":{"datum":25.94}}},
  {"transform":[{"filter":"datum.i == 0"}],"mark":{"type":"text","align":"left","color":"#000033","font":"Noto Sans CJK TC","text":"收"},"encoding":{"x":{"datum":81.2},"y":{"datum":25.94}}},
  {"transform":[{"filter":"datum.i == 0"}],"mark":{"type":"text","align":"left","color":"#ff0000","fontWeight":"bold","fontSize":13,"text":"25.3"},"encoding":{"x":{"datum":83.6},"y":{"datum":25.94}}},
  {"transform":[{"filter":"datum.i == 0"}],"mark":{"type":"text","align":"left","color":"#ff0000","fontWeight":"bold","fontSize":13,"text":"Δ2.3"},"encoding":{"x":{"datum":95.53},"y":{"datum":25.94}}},
  {"transform":[{"filter":"datum.i == 0"}],"mark":{"type":"text","align":"left","color":"#000033","text":"(10.00%)"},"encoding":{"x":{"datum":113.22},"y":{"datum":25.94}}},
  {"transform":[{"filter":"datum.i == 0"}],"mark":{"type":"text","align":"left","color":"#000033","font":"Liberation Serif, Noto Sans CJK TC","fontSize":12.5,"text":"量 3637↓張"},"encoding":{"x":{"datum":125.6},"y":{"datum":25.94}}},
  {"transform":[{"filter":"datum.i == 0"}],"mark":{"type":"text","align":"left","color":"#000033","font":"Noto Sans CJK TC","fontSize":12.5,"text":"日線"},"encoding":{"x":{"datum":147.6},"y":{"datum":25.94}}}
 ]
},
{
 "width":1148,"height":83.5,
 "data":{"name":"d"},
 "encoding":{"x":{"field":"i","type":"quantitative","scale":{"domain":[-1.326,152.47],"nice":false,"zero":false},"axis":null}},
 "layer":[
  {"mark":{"type":"bar","width":6,"clip":true},"encoding":{"y":{"field":"v","type":"quantitative","scale":{"domain":[0,5353],"nice":false},"axis":{"values":[1000,3000,5000],"tickCount":10,"format":"d"}},"color":{"field":"dir","type":"nominal","scale":{"domain":["up","dn"],"range":["#ff8080","#00c0c0"]},"legend":null}}},
  {"mark":{"type":"line","color":"#ff0000","strokeWidth":2},"encoding":{"y":{"field":"a5","type":"quantitative","axis":{"values":[1000,3000,5000],"tickCount":10,"format":"d"}}}},
  {"mark":{"type":"line","color":"#0000ff","strokeWidth":2},"encoding":{"y":{"field":"a10","type":"quantitative","axis":{"values":[1000,3000,5000],"tickCount":10,"format":"d"}}}},
  {"transform":[{"filter":"datum.i == 0"}],"mark":{"type":"rect","fill":"#ffffff","stroke":"#d4d4d4","strokeWidth":1},"encoding":{"x":{"datum":-0.924},"x2":{"datum":24.9},"y":{"datum":5173},"y2":{"datum":2006}}},
  {"transform":[{"filter":"datum.i == 0"}],"mark":{"type":"text","align":"left","color":"#000033","text":"VOL"},"encoding":{"x":{"datum":-0.25},"y":{"datum":4571}}},
  {"transform":[{"filter":"datum.i == 0"}],"mark":{"type":"text","align":"right","color":"#000033","text":"3637 ↓"},"encoding":{"x":{"datum":24.22},"y":{"datum":4571}}},
  {"transform":[{"filter":"datum.i == 0"}],"mark":{"type":"text","align":"left","color":"#ff0000","text":"5"},"encoding":{"x":{"datum":-0.25},"y":{"datum":3571}}},
  {"transform":[{"filter":"datum.i == 0"}],"mark":{"type":"text","align":"right","color":"#ff0000","text":"2564 ↑"},"encoding":{"x":{"datum":24.22},"y":{"datum":3571}}},
  {"transform":[{"filter":"datum.i == 0"}],"mark":{"type":"text","align":"left","color":"#0000ff","text":"10"},"encoding":{"x":{"datum":-0.25},"y":{"datum":2609}}},
  {"transform":[{"filter":"datum.i == 0"}],"mark":{"type":"text","align":"right","color":"#0000ff","text":"1845 ↑"},"encoding":{"x":{"datum":24.22},"y":{"datum":2609}}}
 ]
},
{
 "width":1148,"height":84,
 "data":{"name":"d"},
 "encoding":{"x":{"field":"i","type":"quantitative","scale":{"domain":[-1.326,152.47],"nice":false,"zero":false},"axis":{"values":[0,1,2,3,4,5,6,7,8,9,10,11,12,13,14,15,16,17,18,19,20,21,22,23,24,25,26,27,28,29,30,31,32,33,34,35,36,37,38,39,40,41,42,43,44,45,46,47,48,49,50,51,52,53,54,55,56,57,58,59,60,61,62,63,64,65,66,67,68,69,70,71,72,73,74,75,76,77,78,79,80,81,82,83,84,85,86,87,88,89,90,91,92,93,94,95,96,97,98,99,100,101,102,103,104,105,106,107,108,109,110,111,112,113,114,115,116,117,118,119,120,121,122,123,124,125,126,127,128,129,130,131,132,133,134,135,136,137,138,139,140,141,142,143,144,145,146,147,148,149],"tickCount":200,"labelExpr":"datum.value == 11 ? '03' : datum.value == 32 ? '04' : datum.value == 52 ? '05' : datum.value == 74 ? '06' : datum.value == 93 ? '07' : datum.value == 114 ? '08' : datum.value == 136 ? '09' : ''","grid":false,"ticks":true,"tickColor":"#c80000","tickSize":3,"offset":1.5,"labelPadding":5,"labelOverlap":false,"labelBound":false,"labelFlush":false,"labelFontSize":13,"domain":false}}},
 "layer":[
  {"mark":{"type":"line","color":"#ff0000","strokeWidth":2},"encoding":{"y":{"field":"k","type":"quantitative","scale":{"domain":[0,100],"nice":false},"axis":{"values":[40,70],"tickCount":10}}}},
  {"mark":{"type":"line","color":"#0000ff","strokeWidth":2},"encoding":{"y":{"field":"d","type":"quantitative","axis":{"values":[40,70],"tickCount":10}}}},
  {"transform":[{"filter":"datum.i == 0"}],"mark":{"type":"rect","fill":"#ffffff","stroke":"#d4d4d4","strokeWidth":1},"encoding":{"x":{"datum":-0.924},"x2":{"datum":25.2},"y":{"datum":97.86},"y2":{"datum":57.38}}},
  {"transform":[{"filter":"datum.i == 0"}],"mark":{"type":"text","align":"left","color":"#ff0000","text":"K 9"},"encoding":{"x":{"datum":-0.12},"y":{"datum":86.3}}},
  {"transform":[{"filter":"datum.i == 0"}],"mark":{"type":"text","align":"right","color":"#ff0000","text":"65.05 ↑"},"encoding":{"x":{"datum":24.49},"y":{"datum":86.3}}},
  {"transform":[{"filter":"datum.i == 0"}],"mark":{"type":"text","align":"left","color":"#0000ff","text":"D 9"},"encoding":{"x":{"datum":-0.12},"y":{"datum":68.45}}},
  {"transform":[{"filter":"datum.i == 0"}],"mark":{"type":"text","align":"right","color":"#0000ff","text":"45.22 ↑"},"encoding":{"x":{"datum":24.49},"y":{"datum":68.45}}},
  {"transform":[{"filter":"datum.i == 0"}],"mark":{"type":"rect","fill":"#0000ff"},"encoding":{"x":{"datum":-8.03},"x2":{"datum":-2.93},"y":{"datum":-10.1},"y2":{"datum":-29.2}}},
  {"transform":[{"filter":"datum.i == 0"}],"mark":{"type":"text","align":"left","color":"#ffffff","font":"Liberation Sans","fontSize":10.5,"text":"CMoney"},"encoding":{"x":{"datum":-8.0},"y":{"datum":-19.6}}}
 ]
}
]
}
